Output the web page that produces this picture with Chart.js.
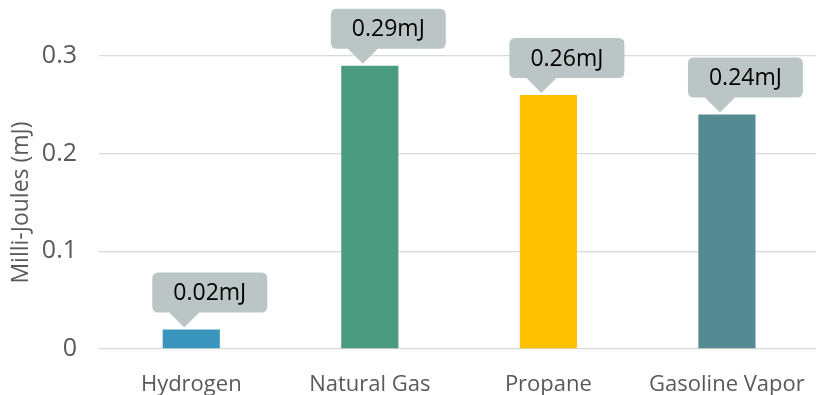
<!DOCTYPE html>
<html>
<head>
<meta charset="utf-8">
<script src="https://cdn.jsdelivr.net/npm/chart.js@4.4.0/dist/chart.umd.min.js"></script>
<style>
  html, body { margin: 0; padding: 0; background: #ffffff; }
  #wrap { width: 820px; height: 395px; position: relative; }
</style>
</head>
<body>
<div id="wrap"><canvas id="c"></canvas></div>
<script>
// Minimum ignition energy by fuel
const categories = ["Hydrogen", "Natural Gas", "Propane", "Gasoline Vapor"];
const energyMJ = [0.02, 0.29, 0.26, 0.24];
const barColors = ["#3A96BE", "#4A9B7F", "#FFC000", "#568A93"];
const yTicks = [0, 0.1, 0.2, 0.3];

const FONT = "'Open Sans', 'Liberation Sans', sans-serif";

// Grey speech-bubble value labels above each bar
const calloutPlugin = {
  id: "callouts",
  afterDatasetsDraw(chart) {
    const ctx = chart.ctx;
    const meta = chart.getDatasetMeta(0);
    meta.data.forEach((bar, i) => {
      const tipX = bar.x - 7;
      const tipY = bar.y - 2;
      const boxW = 115, boxH = 40, ptrH = 15, ptrHalf = 15, r = 6;
      const left = tipX - 32;
      const bottom = tipY - ptrH;
      const top = bottom - boxH;
      const right = left + boxW;
      ctx.save();
      ctx.fillStyle = "#BCC5C5";
      ctx.beginPath();
      ctx.moveTo(left + r, top);
      ctx.lineTo(right - r, top);
      ctx.quadraticCurveTo(right, top, right, top + r);
      ctx.lineTo(right, bottom - r);
      ctx.quadraticCurveTo(right, bottom, right - r, bottom);
      ctx.lineTo(tipX + ptrHalf, bottom);
      ctx.lineTo(tipX, tipY);
      ctx.lineTo(tipX - ptrHalf, bottom);
      ctx.lineTo(left + r, bottom);
      ctx.quadraticCurveTo(left, bottom, left, bottom - r);
      ctx.lineTo(left, top + r);
      ctx.quadraticCurveTo(left, top, left + r, top);
      ctx.closePath();
      ctx.fill();
      ctx.fillStyle = "#000000";
      ctx.font = "23px " + FONT;
      ctx.textAlign = "center";
      ctx.textBaseline = "middle";
      ctx.fillText(energyMJ[i] + "mJ", left + boxW / 2, top + boxH / 2 + 1);
      ctx.restore();
    });
  }
};

new Chart(document.getElementById("c"), {
  type: "bar",
  data: {
    labels: categories,
    datasets: [{
      data: energyMJ,
      backgroundColor: barColors,
      borderWidth: 0,
      categoryPercentage: 1,
      barPercentage: 0.32
    }]
  },
  options: {
    responsive: true,
    maintainAspectRatio: false,
    animation: false,
    layout: { padding: { top: 56, right: 2, left: 8, bottom: 0 } },
    plugins: { legend: { display: false }, tooltip: { enabled: false } },
    scales: {
      x: {
        grid: { display: false },
        border: { display: false },
        ticks: { color: "#595959", font: { family: FONT, size: 22 }, padding: 15 },
        afterFit(axis) { axis.height = 46; }
      },
      y: {
        min: 0,
        max: 0.3,
        afterBuildTicks(axis) { axis.ticks = yTicks.map(v => ({ value: v })); },
        afterFit(axis) { axis.width = 94; },
        grid: { color: "#D9D9D9", lineWidth: 1.3, tickLength: 3 },
        border: { display: false },
        ticks: { color: "#595959", font: { family: FONT, size: 25 }, padding: 22 },
        title: {
          display: true,
          text: "Milli-Joules (mJ)",
          color: "#595959",
          font: { family: FONT, size: 23 },
          padding: { top: 0, bottom: 0 }
        }
      }
    }
  },
  plugins: [calloutPlugin]
});
</script>
</body>
</html>
